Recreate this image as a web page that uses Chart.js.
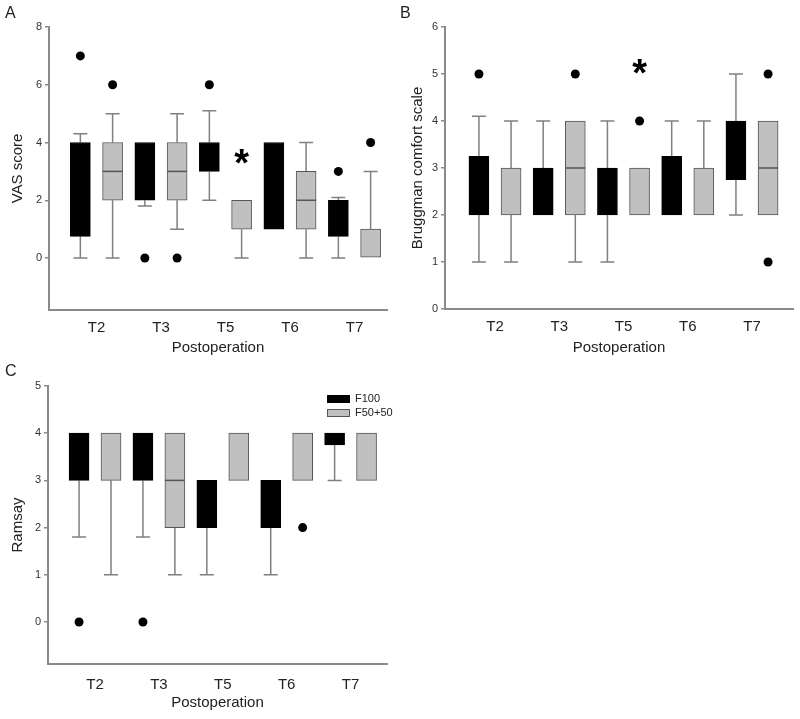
<!DOCTYPE html>
<html>
<head>
<meta charset="utf-8">
<script src="https://cdn.jsdelivr.net/npm/chart.js@4"></script>
<style>
  body { margin: 0; background: #fff; }
  #wrap { position: relative; width: 800px; height: 719px; }
  canvas { position: absolute; }
  .tag { position: absolute; font: 16px "Liberation Sans", Arial, sans-serif; color: #222; line-height: 16px; }
</style>
</head>
<body>
<div id="wrap">
  <canvas id="chartA" width="400" height="360" style="left:0;top:0"></canvas>
  <canvas id="chartB" width="400" height="360" style="left:400px;top:0"></canvas>
  <canvas id="chartC" width="400" height="359" style="left:0;top:360px"></canvas>
  <div class="tag" style="left:5px;top:5px">A</div>
  <div class="tag" style="left:400px;top:5px">B</div>
  <div class="tag" style="left:5px;top:363px">C</div>
</div>
<script>
const periods = ["T2", "T3", "T5", "T6", "T7"];
const groupNames = ["F100", "F50+50"];

// A: VAS score
const vasF100Box = [[0.75, 4], [2, 4], [3, 4], [1, 4], [0.75, 2]];
const vasF100Median = [null, null, null, null, null];
const vasF100Low = [0, 1.8, 2, null, 0];
const vasF100High = [4.3, null, 5.1, null, 2.1];
const vasF100Out = [[7], [0], [6], [], [3]];
const vasF50Box = [[2, 4], [2, 4], [1, 2], [1, 3], [0, 1]];
const vasF50Median = [3, 3, null, 2, null];
const vasF50Low = [0, 1, 0, 0, null];
const vasF50High = [5, 5, null, 4, 3];
const vasF50Out = [[6], [0], [], [], [4]];
const vasStar = [null, null, 3.5, null, null];
const vasTicks = [0, 2, 4, 6, 8];

// B: Bruggman comfort scale
const bcsF100Box = [[2, 3.25], [2, 3], [2, 3], [2, 3.25], [2.75, 4]];
const bcsF100Median = [null, null, null, null, null];
const bcsF100Low = [1, null, 1, null, 2];
const bcsF100High = [4.1, 4, 4, 4, 5];
const bcsF100Out = [[5], [], [], [], []];
const bcsF50Box = [[2, 3], [2, 4], [2, 3], [2, 3], [2, 4]];
const bcsF50Median = [null, 3, null, null, 3];
const bcsF50Low = [1, 1, null, null, null];
const bcsF50High = [4, null, null, 4, null];
const bcsF50Out = [[], [5], [4], [], [5, 1]];
const bcsStar = [null, null, 5.15, null, null];
const bcsTicks = [0, 1, 2, 3, 4, 5, 6];

// C: Ramsay
const ramF100Box = [[3, 4], [3, 4], [2, 3], [2, 3], [3.75, 4]];
const ramF100Median = [null, null, null, null, null];
const ramF100Low = [1.8, 1.8, 1, 1, 3];
const ramF100High = [null, null, null, null, null];
const ramF100Out = [[0], [0], [], [], []];
const ramF50Box = [[3, 4], [2, 4], [3, 4], [3, 4], [3, 4]];
const ramF50Median = [null, 3, null, null, null];
const ramF50Low = [1, 1, null, null, null];
const ramF50High = [null, null, null, null, null];
const ramF50Out = [[], [], [], [2], []];
const ramStar = [null, null, null, null, null];
const ramTicks = [0, 1, 2, 3, 4, 5];

const FONT = '"Liberation Sans", Arial, sans-serif';
const axisColor = "#8a8a8a";
const whiskerColor = "#808080";
const blackFill = "#000000";
const grayFill = "#c0c0c0";
const grayEdge = "#555555";
const off = 0.25; // half distance between the two groups, in category units

function boxSet(label, boxes, medians, lows, highs, shift, fill, edge) {
  return {
    type: "bar",
    label: label,
    data: boxes.map((b, i) => ({ x: i + 1 + shift, y: b })),
    medians: medians,
    lows: lows,
    highs: highs,
    backgroundColor: fill,
    borderColor: edge,
    borderWidth: 1,
    borderSkipped: false,
    barThickness: 20,
    grouped: false,
    order: 2,
  };
}

function outlierSet(outs, shift) {
  const pts = [];
  outs.forEach((list, i) => list.forEach((v) => pts.push({ x: i + 1 + shift, y: v })));
  return {
    type: "scatter",
    data: pts,
    pointRadius: 4.5,
    pointHoverRadius: 4.5,
    backgroundColor: "#000",
    borderWidth: 0,
    order: 1,
  };
}

const boxExtras = {
  id: "boxExtras",
  beforeDatasetsDraw(chart) {
    const ctx = chart.ctx;
    const ys = chart.scales.y;
    ctx.save();
    ctx.strokeStyle = whiskerColor;
    ctx.lineWidth = 1.5;
    chart.data.datasets.forEach((ds, di) => {
      if (!ds.lows) return;
      const meta = chart.getDatasetMeta(di);
      meta.data.forEach((el, i) => {
        const box = ds.data[i].y;
        [[ds.lows[i], box[0]], [ds.highs[i], box[1]]].forEach(([w, edge]) => {
          if (w === null) return;
          const py = ys.getPixelForValue(w);
          ctx.beginPath();
          ctx.moveTo(el.x, ys.getPixelForValue(edge));
          ctx.lineTo(el.x, py);
          ctx.moveTo(el.x - 7, py);
          ctx.lineTo(el.x + 7, py);
          ctx.stroke();
        });
      });
    });
    ctx.restore();
  },
  afterDatasetsDraw(chart, args, opts) {
    const ctx = chart.ctx;
    const ys = chart.scales.y;
    const xs = chart.scales.x;
    ctx.save();
    ctx.strokeStyle = grayEdge;
    ctx.lineWidth = 1.5;
    chart.data.datasets.forEach((ds, di) => {
      if (!ds.medians) return;
      const meta = chart.getDatasetMeta(di);
      meta.data.forEach((el, i) => {
        if (ds.medians[i] === null) return;
        const py = ys.getPixelForValue(ds.medians[i]);
        ctx.beginPath();
        ctx.moveTo(el.x - el.width / 2, py);
        ctx.lineTo(el.x + el.width / 2, py);
        ctx.stroke();
      });
    });
    // significance marks
    ctx.fillStyle = "#000";
    ctx.font = "bold 38px " + FONT;
    ctx.textAlign = "center";
    ctx.textBaseline = "alphabetic";
    (opts.stars || []).forEach((v, i) => {
      if (v === null) return;
      const m = ctx.measureText("*");
      const cy = ys.getPixelForValue(v);
      const base = cy + (m.actualBoundingBoxAscent - m.actualBoundingBoxDescent) / 2;
      ctx.fillText("*", xs.getPixelForValue(i + 1 + off), base);
    });
    // legend inside the plot
    if (opts.legend) {
      const a = chart.chartArea;
      ctx.font = "11px " + FONT;
      ctx.textAlign = "left";
      ctx.textBaseline = "middle";
      chart.data.datasets.filter((d) => d.lows).forEach((d, k) => {
        const top = a.top + 9 + k * 14;
        ctx.fillStyle = d.backgroundColor;
        ctx.fillRect(a.right - 60, top, 23, 8);
        ctx.strokeStyle = d.borderColor;
        ctx.lineWidth = 1;
        ctx.strokeRect(a.right - 59.5, top + 0.5, 22, 7);
        ctx.fillStyle = "#222";
        ctx.fillText(d.label, a.right - 32, top + 4);
      });
    }
    ctx.restore();
  },
};

function makePanel(id, p) {
  return new Chart(document.getElementById(id), {
    type: "bar",
    data: {
      datasets: [
        boxSet(groupNames[0], p.f100Box, p.f100Median, p.f100Low, p.f100High, -off, blackFill, "#000"),
        boxSet(groupNames[1], p.f50Box, p.f50Median, p.f50Low, p.f50High, off, grayFill, grayEdge),
        outlierSet(p.f100Out, -off),
        outlierSet(p.f50Out, off),
      ],
    },
    plugins: [boxExtras],
    options: {
      responsive: false,
      animation: false,
      events: [],
      layout: { padding: { top: p.padTop, right: p.padRight, left: 0, bottom: 0 } },
      plugins: {
        legend: { display: false },
        tooltip: { enabled: false },
        boxExtras: { stars: p.stars, legend: p.legend },
      },
      scales: {
        x: {
          type: "linear",
          min: p.xMin,
          max: p.xMax,
          offset: false,
          afterBuildTicks: (s) => { s.ticks = periods.map((t, i) => ({ value: i + 1 })); },
          afterFit: (s) => { s.height = p.xHeight; },
          grid: { display: false, drawTicks: false },
          border: { color: axisColor, width: 2 },
          ticks: {
            callback: (v) => periods[v - 1],
            font: { family: FONT, size: 15 },
            color: "#222",
            padding: p.tickPad,
            maxRotation: 0,
            autoSkip: false,
          },
          title: {
            display: true,
            text: "Postoperation",
            font: { family: FONT, size: 15 },
            color: "#222",
            padding: { top: 0, bottom: p.titlePad },
          },
        },
        y: {
          min: p.yMin,
          max: p.yMax,
          afterBuildTicks: (s) => { s.ticks = p.ticks.map((v) => ({ value: v })); },
          afterFit: (s) => { s.width = p.yWidth; },
          grid: { drawOnChartArea: false, drawTicks: true, tickLength: 4, color: axisColor, lineWidth: 1.5 },
          border: { color: axisColor, width: 2 },
          ticks: { font: { family: FONT, size: 11 }, color: "#333", padding: 3 },
          title: {
            display: true,
            text: p.yTitle,
            font: { family: FONT, size: 15 },
            color: "#222",
            padding: { top: 9, bottom: 0 },
          },
        },
      },
    },
  });
}

makePanel("chartA", {
  f100Box: vasF100Box, f100Median: vasF100Median, f100Low: vasF100Low, f100High: vasF100High, f100Out: vasF100Out,
  f50Box: vasF50Box, f50Median: vasF50Median, f50Low: vasF50Low, f50High: vasF50High, f50Out: vasF50Out,
  stars: vasStar, ticks: vasTicks, yTitle: "VAS score",
  yMin: -1.8, yMax: 8, xMin: 0.264, xMax: 5.504,
  padTop: 27, padRight: 13, yWidth: 49, xHeight: 50, tickPad: 9, titlePad: 3, legend: false,
});

makePanel("chartB", {
  f100Box: bcsF100Box, f100Median: bcsF100Median, f100Low: bcsF100Low, f100High: bcsF100High, f100Out: bcsF100Out,
  f50Box: bcsF50Box, f50Median: bcsF50Median, f50Low: bcsF50Low, f50High: bcsF50High, f50Out: bcsF50Out,
  stars: bcsStar, ticks: bcsTicks, yTitle: "Bruggman comfort scale",
  yMin: 0, yMax: 6, xMin: 0.222, xMax: 5.638,
  padTop: 27, padRight: 7, yWidth: 45, xHeight: 51, tickPad: 9, titlePad: 3, legend: false,
});

makePanel("chartC", {
  f100Box: ramF100Box, f100Median: ramF100Median, f100Low: ramF100Low, f100High: ramF100High, f100Out: ramF100Out,
  f50Box: ramF50Box, f50Median: ramF50Median, f50Low: ramF50Low, f50High: ramF50High, f50Out: ramF50Out,
  stars: ramStar, ticks: ramTicks, yTitle: "Ramsay",
  yMin: -0.89, yMax: 5, xMin: 0.264, xMax: 5.57,
  padTop: 26, padRight: 13, yWidth: 48, xHeight: 55, tickPad: 12, titlePad: 7, legend: true,
});
</script>
</body>
</html>
